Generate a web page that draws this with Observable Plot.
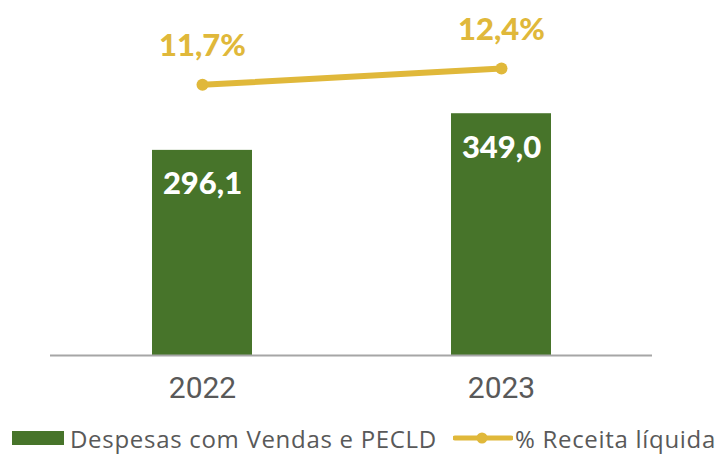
<!DOCTYPE html>
<html>
<head>
<meta charset="utf-8">
<script src="https://cdn.jsdelivr.net/npm/d3@7"></script>
<script src="https://cdn.jsdelivr.net/npm/@observablehq/plot@0.6"></script>
<style>
  html, body { margin: 0; padding: 0; background: #fff; }
  #wrap { position: relative; width: 720px; height: 454px; }
  #legend { position: absolute; left: 0; top: 421px; width: 720px; height: 34px; font-family: "Open Sans", Lato, sans-serif; font-size: 24px; letter-spacing: 0.7px; color: #595959; }
  #legend .item { position: absolute; top: 0; height: 34px; display: flex; align-items: center; white-space: nowrap; }
</style>
</head>
<body>
<div id="wrap">
  <div id="chart"></div>
  <div id="legend"></div>
</div>
<script>
const years = ["2022", "2023"];
const despesas = [296.1, 349.0];
const despesasLabels = ["296,1", "349,0"];
const receitaPct = [11.7, 12.4];
const receitaLabels = ["11,7%", "12,4%"];
const seriesNames = ["Despesas com Vendas e PECLD", "% Receita líquida"];

const green = "#47742A";
const gold = "#E0B83A";
const pctFactor = 33.4; // secondary axis mapping of % onto bar scale

const bars = years.map((y, i) => ({year: y, value: despesas[i], label: despesasLabels[i]}));
const pts = years.map((y, i) => ({year: y, pct: receitaPct[i], yv: receitaPct[i] * pctFactor, label: receitaLabels[i]}));

const chart = Plot.plot({
  width: 720,
  height: 420,
  marginTop: 10,
  marginBottom: 65,
  marginLeft: 50,
  marginRight: 68,
  style: {background: "#fff"},
  x: {domain: years, paddingInner: 0.667, paddingOuter: 0.337, label: null},
  y: {domain: [0, 498], axis: null},
  marks: [
    Plot.barY(bars, {x: "year", y: "value", fill: green}),
    Plot.ruleY([0], {stroke: "#A6A6A6", strokeWidth: 2}),
    Plot.text(bars, {x: "year", y: "value", text: "label", fill: "#fff", fontSize: 31, fontWeight: 900, fontFamily: "Lato, sans-serif", dy: 34, lineAnchor: "middle"}),
    Plot.lineY(pts, {x: "year", y: "yv", stroke: gold, strokeWidth: 6}),
    Plot.dot(pts, {x: "year", y: "yv", r: 6, fill: gold}),
    Plot.text(pts, {x: "year", y: "yv", text: "label", fill: gold, fontSize: 31, fontWeight: 900, fontFamily: "Lato, sans-serif", dy: -39, lineAnchor: "middle"}),
    Plot.axisX({tickSize: 0, tickPadding: 21, fontSize: 30, fontFamily: "Roboto, sans-serif", fill: "#595959", label: null})
  ]
});
document.getElementById("chart").appendChild(chart);

const legend = document.getElementById("legend");
const it1 = document.createElement("div");
it1.className = "item";
it1.style.left = "12px";
it1.innerHTML = `<span style="display:inline-block;width:52px;height:14px;background:${green};margin-right:6px"></span><span>${seriesNames[0]}</span>`;
legend.appendChild(it1);
const it2 = document.createElement("div");
it2.className = "item";
it2.style.left = "453px";
it2.innerHTML = `<svg width="60" height="14" style="margin-right:2px"><line x1="2" y1="7" x2="58" y2="7" stroke="${gold}" stroke-width="5" stroke-linecap="round"/><circle cx="29" cy="7" r="5.5" fill="${gold}"/></svg><span>${seriesNames[1]}</span>`;
legend.appendChild(it2);
</script>
</body>
</html>
